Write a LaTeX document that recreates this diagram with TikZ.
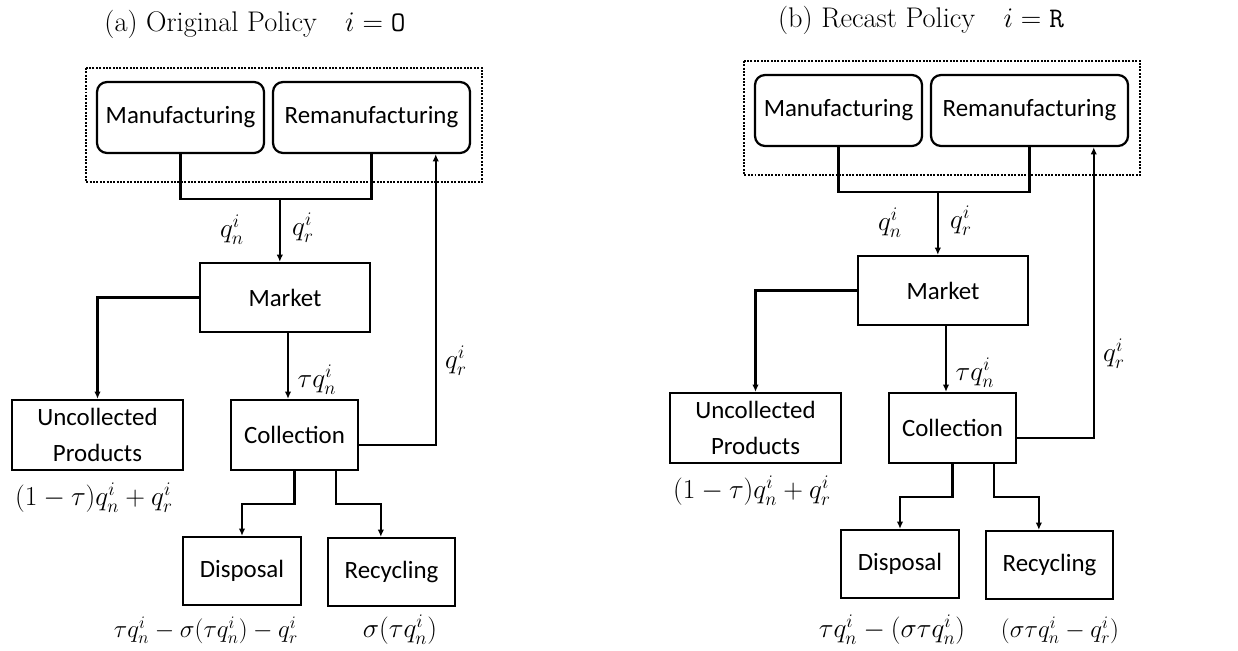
\RequirePackage{fix-cm}
\documentclass[tikz,border=0pt]{standalone}
\usepackage{fontspec}
\setsansfont{Carlito}
\usepackage{amsmath}
\usetikzlibrary{arrows.meta}
\usetikzlibrary{positioning,calc}
\tikzset{
    block/.style={
        draw,
        rectangle,
        line width=1.6pt,
        inner sep=2pt,
        align=center,
        font=\sffamily\fontsize{17.7}{25}\selectfont
    },
    plant/.style={
        block,
        rounded corners=2.5mm
    },
    boxsize/.style 2 args={
        minimum width=#1*0.025cm,
        minimum height=#2*0.025cm
    },
    link/.style={
        draw,
        line width=1.5pt
    },
    flow/.style={
        link,
        -{Latex[length=1.8mm, width=1.6mm]}
    },
    amount/.style={font=\fontsize{19.5}{23}\selectfont},
    long amount/.style={font=\fontsize{17.8}{21}\selectfont}
}

\begin{document}
\begin{tikzpicture}[
      x = 0.025cm,
      y = -0.025cm,
      title/.style = {font=\fontsize{20.2}{24}\selectfont}
  ]
  \useasboundingbox (0,0) rectangle (1238,651);

  % (a) Original policy
  \begin{scope}[name prefix=a-]
  \node[title] (title) at (255,24) {(a) Original Policy$\quad i=\mathtt{O}$};

  % Production stage
  \node[plant, boxsize={167}{71}] (mfg) at (180.5,117.5) {Manufacturing};
  \node[plant, boxsize={197}{71}] (reman) at (371.5,117.5) {Remanufacturing};
  \draw[densely dotted, line width=1.4pt] ($(mfg.north west)+(-10,-13)$) rectangle ($(reman.south east)+(11,28)$);

  % Market and after-use flows
  \node[block, boxsize={170}{69}] (market) at (285,297.5) {Market};
  \node[block, boxsize={171}{70}] (uncol) at (97.5,435) {Uncollected\\Products};
  \node[block, boxsize={127}{70}] (coll) at (294.5,435) {Collection};
  \node[block, boxsize={118}{68}] (disp) at (242,571) {Disposal};
  \node[block, boxsize={127}{68}] (recy) at (391.5,572) {Recycling};

  % Edges
  \coordinate (merge) at ($(mfg.south)!0.52!(reman.south)+(0,45)$);
  \coordinate (sell) at ($(market.south)+(3,0)$);
  \draw[link] (mfg.south) -- ++(0,45) -| (reman.south);
  \draw[flow] (merge) -- (merge |- market.north);
  \draw[flow] (market.west) -| (uncol.north);
  \draw[flow] (sell) -- (sell |- coll.north);
  \draw[flow] ($(coll.east)+(0,10)$) -| ($(reman.south)!0.645!(reman.south east)$);
  \draw[flow] (coll.south) -- ++(0,33) -| (disp.north);
  \draw[flow] ($(coll.south)!0.64!(coll.south east)$) -- ++(0,33) -| ($(recy.north)!0.165!(recy.north west)$);

  % Quantities
  \node[amount] (qn) at (232,230) {$q_n^i$};
  \node[amount] (qr) at (303,228) {$q_r^i$};
  \node[amount] (tq) at (317,380) {$\tau q_n^i$};
  \node[amount] (back) at (456,361) {$q_r^i$};
  \node[amount] (uncolq) at (94,498) {$(1-\tau)q_n^i+q_r^i$};
  \node[long amount] (dispq) at (206,630) {$\tau q_n^i-\sigma(\tau q_n^i)-q_r^i$};
  \node[amount] (recyq) at (400,630) {$\sigma(\tau q_n^i)$};
  \end{scope}

  % (b) Recast policy
  \begin{scope}[shift={(658,-7)}, name prefix=b-]
  \node[title] (title) at (263,27) {(b) Recast Policy$\quad i=\mathtt{R}$};

  % Production stage
  \node[plant, boxsize={167}{71}] (mfg) at (180.5,117.5) {Manufacturing};
  \node[plant, boxsize={197}{71}] (reman) at (371.5,117.5) {Remanufacturing};
  \draw[densely dotted, line width=1.4pt] ($(mfg.north west)+(-10,-13)$) rectangle ($(reman.south east)+(11,28)$);

  % Market and after-use flows
  \node[block, boxsize={170}{69}] (market) at (285,297.5) {Market};
  \node[block, boxsize={171}{70}] (uncol) at (97.5,435) {Uncollected\\Products};
  \node[block, boxsize={127}{70}] (coll) at (294.5,435) {Collection};
  \node[block, boxsize={118}{68}] (disp) at (242,571) {Disposal};
  \node[block, boxsize={127}{68}] (recy) at (391.5,572) {Recycling};

  % Edges
  \coordinate (merge) at ($(mfg.south)!0.52!(reman.south)+(0,45)$);
  \coordinate (sell) at ($(market.south)+(3,0)$);
  \draw[link] (mfg.south) -- ++(0,45) -| (reman.south);
  \draw[flow] (merge) -- (merge |- market.north);
  \draw[flow] (market.west) -| (uncol.north);
  \draw[flow] (sell) -- (sell |- coll.north);
  \draw[flow] ($(coll.east)+(0,10)$) -| ($(reman.south)!0.645!(reman.south east)$);
  \draw[flow] (coll.south) -- ++(0,33) -| (disp.north);
  \draw[flow] ($(coll.south)!0.64!(coll.south east)$) -- ++(0,33) -| ($(recy.north)!0.165!(recy.north west)$);

  % Quantities
  \node[amount] (qn) at (232,230) {$q_n^i$};
  \node[amount] (qr) at (303,228) {$q_r^i$};
  \node[amount] (tq) at (317,380) {$\tau q_n^i$};
  \node[amount] (back) at (456,361) {$q_r^i$};
  \node[amount] (uncolq) at (94,498) {$(1-\tau)q_n^i+q_r^i$};
  \node[amount] (dispq) at (234,637) {$\tau q_n^i-(\sigma\tau q_n^i)$};
  \node[long amount] (recyq) at (402,637) {$(\sigma\tau q_n^i-q_r^i)$};
  \end{scope}
\end{tikzpicture}
\end{document}
